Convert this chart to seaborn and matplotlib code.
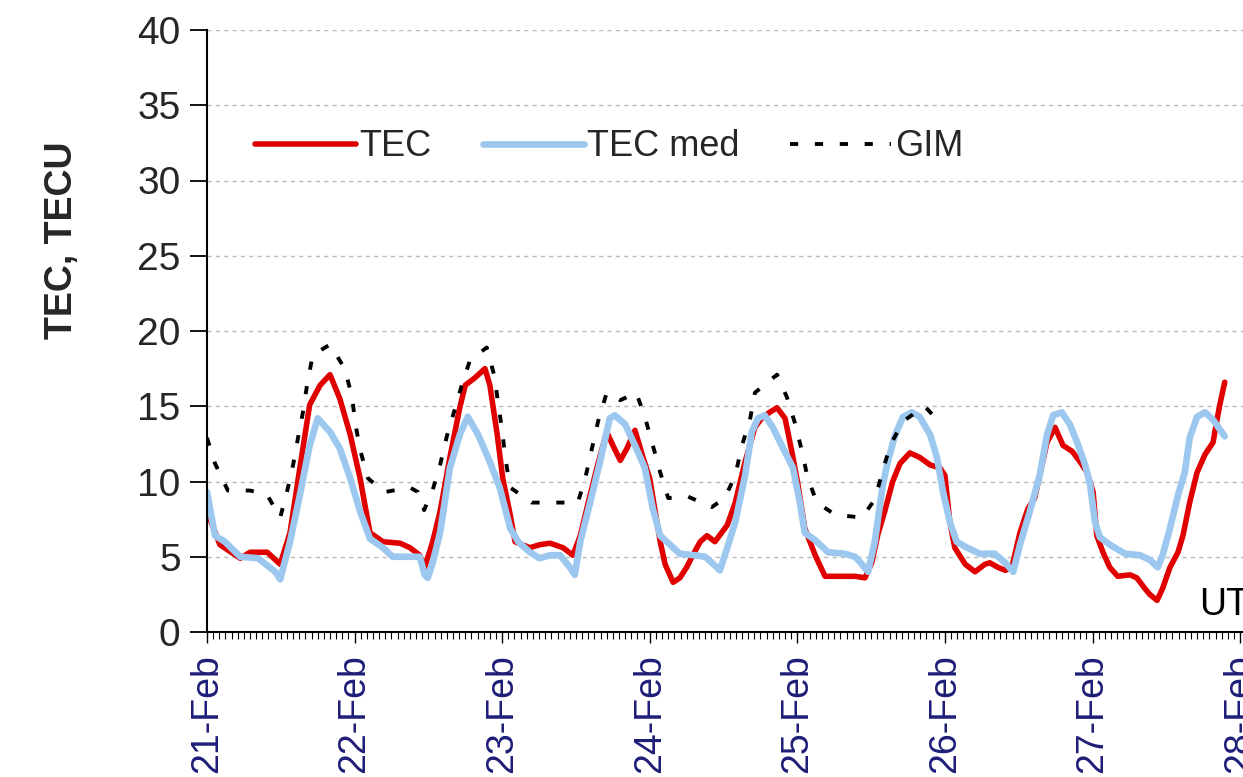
import numpy as np
import pandas as pd
import matplotlib
matplotlib.use("Agg")
import matplotlib.pyplot as plt
import matplotlib.dates as mdates
import seaborn as sns

# ---- data (hours since 21-Feb 00 UT, TECU) ----
tec_hours = [0, 2.1, 5.4, 7.0, 9.8, 11.9, 13.5, 15.1, 16.7, 18.4, 20.0, 21.6, 23.3, 24.9, 26.5,
             28.6, 31.4, 33.0, 34.6, 35.4, 36.7, 37.9, 39.5, 41.1, 42.0, 43.6, 45.2, 46.0, 47.2,
             48.1, 49.3, 50.1, 52.5, 54.1, 55.8, 57.9, 59.5, 60.7, 62.0, 63.4, 65.0, 66.0, 67.2,
             68.3, 69.6, 70.9, 72.0, 72.8, 73.7, 74.5, 75.8, 76.9, 78.0, 79.0, 80.2, 81.3, 82.6,
             84.6, 85.9, 87.5, 89.1, 90.2, 91.5, 92.7, 94.0, 95.1, 96.1, 97.2, 98.9, 100.5, 102.9,
             105.4, 107.0, 108.1, 109.1, 110.2, 111.5, 112.7, 114.3, 115.9, 117.6, 119.2, 120.0,
             120.8, 121.6, 123.3, 124.9, 126.5, 127.3, 128.6, 129.8, 130.9, 132.2, 133.5, 134.6,
             135.4, 136.6, 137.9, 139.2, 140.7, 142.0, 143.1, 144.1, 144.7, 145.7, 146.8, 148.1,
             150.1, 151.2, 152.5, 153.3, 154.5, 155.4, 156.6, 157.9, 158.7, 159.8, 161.0, 162.3,
             163.6, 164.2, 164.7, 165.5]
tec_values = [8.0, 5.8, 4.9, 5.3, 5.3, 4.5, 6.6, 10.9, 15.1, 16.4, 17.1, 15.5, 13.1, 10.2, 6.6,
              6.0, 5.9, 5.6, 5.1, 4.3, 6.0, 8.0, 11.6, 14.9, 16.4, 16.9, 17.5, 16.4, 13.1,
              10.2, 7.8, 6.0, 5.6, 5.8, 5.9, 5.6, 5.1, 6.4, 8.6, 10.9, 13.3, 12.4, 11.4,
              12.2, 13.4, 11.6, 10.2, 8.2, 6.0, 4.5, 3.3, 3.6, 4.3, 5.1, 6.0, 6.4, 6.0,
              7.1, 8.6, 11.3, 13.6, 14.2, 14.6, 14.9, 14.2, 12.0, 9.8, 6.9, 5.1, 3.7, 3.7,
              3.7, 3.6, 4.6, 6.5, 8.0, 10.0, 11.2, 11.9, 11.6, 11.1, 10.9, 10.4,
              7.3, 5.6, 4.5, 4.0, 4.5, 4.6, 4.3, 4.1, 4.3, 6.6, 8.2, 8.9,
              10.4, 12.6, 13.6, 12.4, 12.0, 11.3, 10.6, 9.3, 6.4, 5.3, 4.3, 3.7,
              3.8, 3.6, 2.9, 2.5, 2.1, 2.9, 4.3, 5.3, 6.4, 8.6, 10.6, 11.8,
              12.6, 14.0, 15.1, 16.6]

med_hours = [0, 1.3, 2.9, 5.4, 8.3, 11.1, 11.9, 13.5, 15.1, 16.7, 18.0, 20.0, 21.6, 23.3, 24.9,
             26.5, 28.6, 30.2, 34.6, 35.4, 35.9, 36.7, 37.9, 39.5, 41.1, 42.4, 44.1, 46.0, 47.6,
             49.3, 50.6, 52.5, 54.1, 55.8, 57.4, 59.0, 59.8, 60.7, 62.3, 63.9, 65.5, 66.3, 68.0,
             69.6, 71.2, 72.5, 73.7, 75.3, 76.9, 79.3, 81.0, 82.1, 83.4, 84.6, 85.9, 87.5, 88.6,
             89.6, 90.7, 92.0, 93.7, 95.3, 96.4, 97.2, 98.9, 101.0, 103.7, 105.4, 106.5, 107.5,
             108.6, 109.9, 110.7, 111.9, 113.2, 114.6, 115.9, 117.6, 118.7, 119.7, 120.8, 121.9,
             123.6, 125.7, 128.1, 129.8, 131.1, 132.2, 133.8, 135.4, 136.6, 137.6, 139.0, 140.3,
             141.5, 142.8, 143.6, 144.4, 145.2, 146.8, 149.3, 151.7, 153.3, 154.6, 155.4, 156.6,
             157.9, 159.0, 159.8, 161.0, 162.3, 163.6, 165.5]
med_values = [9.3, 6.4, 6.0, 5.0, 4.9, 4.0, 3.5, 6.0, 9.1, 12.4, 14.2, 13.3, 12.2, 10.2, 8.0,
              6.2, 5.6, 5.0, 5.0, 3.8, 3.6, 4.6, 6.6, 10.9, 13.1, 14.3, 13.1, 11.3, 9.6,
              6.9, 6.0, 5.3, 4.9, 5.1, 5.1, 4.3, 3.8, 6.0, 8.6, 11.3, 14.2, 14.4, 13.8,
              12.4, 10.9, 8.2, 6.4, 5.8, 5.2, 5.1, 5.0, 4.6, 4.1, 5.6, 7.3, 10.4, 13.3,
              14.2, 14.4, 13.6, 12.2, 10.9, 8.6, 6.6, 6.1, 5.3, 5.2, 5.0, 4.5, 4.0,
              6.0, 9.8, 11.3, 13.1, 14.3, 14.6, 14.3, 13.1, 11.6, 9.3, 7.3, 6.0,
              5.6, 5.2, 5.2, 4.6, 4.0, 5.8, 8.0, 10.4, 13.1, 14.4, 14.6, 13.8,
              12.6, 11.1, 9.8, 7.3, 6.3, 5.8, 5.2, 5.1, 4.8, 4.3, 5.1, 6.9,
              9.1, 10.6, 12.9, 14.3, 14.6, 14.1, 13.0]

gim_hours = [0, 1.3, 3.4, 7.0, 9.8, 11.9, 13.0, 14.0, 14.8, 15.6, 16.3, 17.2, 20.0, 22.4, 23.6,
             24.1, 24.9, 26.2, 28.9, 33.0, 34.3, 35.3, 36.6, 37.9, 39.0, 40.3, 41.5, 42.8, 45.5,
             46.8, 47.3, 48.0, 48.5, 49.3, 52.8, 57.4, 60.3, 61.5, 62.6, 63.6, 65.0, 67.2, 69.8,
             71.2, 72.5, 73.7, 75.0, 78.2, 82.1, 84.2, 85.9, 87.0, 88.3, 89.1, 92.7, 94.3, 95.6,
             96.7, 97.7, 99.2, 102.1, 106.5, 108.6, 109.8, 111.1, 113.2, 116.7, 119.2]
gim_values = [12.9, 11.2, 9.4, 9.4, 9.1, 7.6, 9.3, 11.1, 12.9, 14.6, 16.5, 18.4, 19.1, 17.5, 15.6,
              13.9, 12.1, 10.2, 9.3, 9.6, 9.3, 8.1, 9.3, 11.1, 13.0, 14.8, 16.5, 18.1, 18.9,
              16.9, 15.3, 13.4, 11.6, 9.6, 8.6, 8.6, 8.6, 10.2, 12.2, 14.0, 15.9, 15.4, 15.9,
              14.3, 12.4, 10.6, 8.9, 9.0, 8.3, 8.9, 10.4, 12.4, 14.1, 15.9, 17.1, 15.6, 13.9,
              12.1, 10.2, 8.6, 7.8, 7.6, 8.8, 10.6, 12.4, 14.0, 15.0, 13.9]

series_names = ["TEC", "TEC med", "GIM"]
y_ticks = [0, 5, 10, 15, 20, 25, 30, 35, 40]
start_date = "2023-02-21"
axis_note = "UT"

# ---- styling ----
sns.set_theme(style="white")
plt.rcParams["font.family"] = ["Liberation Sans", "DejaVu Sans"]

W, H = 1243, 777
fig = plt.figure(figsize=(W / 100, H / 100), dpi=100)
ax = fig.add_axes([207 / W, 145 / H, 1070 / W, 602 / H])

base = pd.Timestamp(start_date)


def frame(hours, values):
    return pd.DataFrame({"time": base + pd.to_timedelta(np.array(hours), unit="h"),
                         "value": values})


sns.lineplot(data=frame(tec_hours, tec_values), x="time", y="value", ax=ax,
             color="#E00000", linewidth=4.0, label=series_names[0],
             estimator=None, sort=False)
sns.lineplot(data=frame(med_hours, med_values), x="time", y="value", ax=ax,
             color="#9CC8F0", linewidth=4.8, label=series_names[1],
             estimator=None, sort=False)
sns.lineplot(data=frame(gim_hours, gim_values), x="time", y="value", ax=ax,
             color="black", linewidth=2.8, label=series_names[2],
             estimator=None, sort=False)

lines = ax.get_lines()
for ln in lines[:2]:
    ln.set_solid_capstyle("round")
    ln.set_solid_joinstyle("round")
gim_line = lines[2]
gim_line.set_linewidth(2.8)
gim_line.set_dashes([2.1, 4.3])
gim_line.set_dash_capstyle("butt")

ax.set_ylim(y_ticks[0], y_ticks[-1])
ax.set_yticks(y_ticks)
ax.set_xlim(base, base + pd.Timedelta(hours=174))
ax.xaxis.set_major_locator(mdates.DayLocator())
ax.xaxis.set_major_formatter(mdates.DateFormatter("%d-%b"))
ax.xaxis.set_minor_locator(mdates.HourLocator())

ax.set_xlabel("")
ax.set_ylabel("")
ax.grid(False)
ax.yaxis.grid(True, color="#BBBBBB", linestyle=(0, (3, 3)), linewidth=1.0)
ax.set_axisbelow(True)

for s in ["top", "right"]:
    ax.spines[s].set_visible(False)
for s in ["left", "bottom"]:
    ax.spines[s].set_color("black")
    ax.spines[s].set_linewidth(1.5)

ax.tick_params(axis="y", which="major", direction="out", length=12, width=1.3,
               color="black", labelsize=28, pad=7, left=True)
ax.tick_params(axis="x", which="major", direction="out", length=8, width=1.0,
               color="black", labelsize=27, pad=8, labelrotation=90,
               labelcolor="#1E1E78", bottom=True)
ax.tick_params(axis="x", which="minor", direction="out", length=5, width=0.8,
               color="black", bottom=True)

ax.text(base + pd.Timedelta(hours=161.4), 1.8, axis_note, fontsize=27,
        ha="left", va="center", color="black")

fig.text(62 / W, 1 - 240 / H, "TEC, TECU", rotation=90, fontsize=27,
         fontweight="bold", ha="center", va="center")

leg = ax.legend(loc="center left", bbox_to_anchor=(255 / W, 1 - 147 / H),
                bbox_transform=fig.transFigure, ncol=3, frameon=False,
                fontsize=26, handlelength=2.8, handletextpad=0.1,
                columnspacing=1.4, borderpad=0, borderaxespad=0)
for h in leg.get_lines()[:2]:
    h.set_solid_capstyle("round")

fig.savefig("out.png", dpi=100)
